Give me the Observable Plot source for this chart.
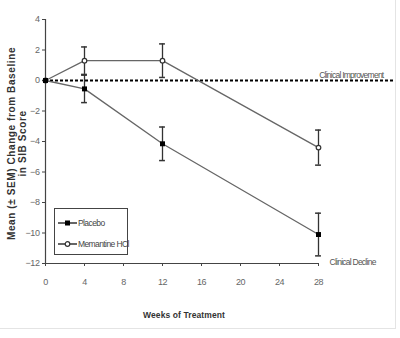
<!DOCTYPE html>
<html>
<head>
<meta charset="utf-8">
<script src="https://cdn.jsdelivr.net/npm/d3@7"></script>
<script src="https://cdn.jsdelivr.net/npm/@observablehq/plot@0.6"></script>
<style>
  html, body { margin: 0; padding: 0; background: #fff; }
  #wrap { position: relative; width: 400px; height: 338px; overflow: hidden; }
  #edge { position: absolute; left: 0; top: 0; width: 395px; height: 328px;
          border-right: 1px solid #e4e4e4; border-bottom: 1px solid #e4e4e4; pointer-events: none; }
  .narrowtext text { letter-spacing: -0.4px; }
  .narrowtext .note text { letter-spacing: -0.75px; }
  .narrowtext .title text { letter-spacing: 0.6px; }
  .narrowtext .xtitle text { letter-spacing: 0.1px; }
  #legend { position: absolute; left: 54px; top: 208px; width: 72px; height: 45px;
            border: 1px solid #444; background: #fff; white-space: nowrap;
            font: 8.5px "Liberation Sans", Arial, sans-serif; letter-spacing: -0.6px; color: #444; }
  #legend .row { position: absolute; left: 3px; height: 12px; display: flex; align-items: center; }
  #legend svg { display: block; }
</style>
</head>
<body>
<div id="wrap"><div id="edge"></div></div>
<script>
// Mean (± SEM) change from baseline in SIB score by week
const weeks = [0, 4, 12, 28];
const placeboMean = [0, -0.55, -4.15, -10.1];
const placeboSem = [0, 0.9, 1.1, 1.4];
const memantineMean = [0, 1.3, 1.3, -4.4];
const memantineSem = [0, 0.9, 1.1, 1.15];
const seriesNames = ["Placebo", "Memantine HCl"];
const weekTicks = [0, 4, 8, 12, 16, 20, 24, 28];
const scoreTicks = [4, 2, 0, -2, -4, -6, -8, -10, -12];

const rows = [];
weeks.forEach((w, i) => {
  rows.push({series: seriesNames[0], week: w, mean: placeboMean[i], sem: placeboSem[i]});
  rows.push({series: seriesNames[1], week: w, mean: memantineMean[i], sem: memantineSem[i]});
});
const withErr = rows.filter(d => d.sem > 0);
const placebo = rows.filter(d => d.series === seriesNames[0]);
const memantine = rows.filter(d => d.series === seriesNames[1]);
const capHalf = 0.3;

const sans = '"Liberation Sans", Arial, sans-serif';

const chart = Plot.plot({
  width: 400,
  height: 338,
  marginLeft: 45,
  marginRight: 7,
  marginTop: 19,
  marginBottom: 75,
  className: "narrowtext",
  x: {domain: [0, 28], range: [45, 318]},
  y: {domain: [-12, 4]},
  style: {fontFamily: sans, fontSize: "9px", background: "transparent", color: "#555"},
  marks: [
    // axis lines
    Plot.ruleX([0], {y1: -12, y2: 4, stroke: "#444", strokeWidth: 1.2}),
    Plot.ruleY([-12], {x1: () => d3.min(weeks), x2: () => d3.max(weeks), stroke: "#444", strokeWidth: 1.2}),
    Plot.axisX({ticks: weekTicks, tickSize: 3, tickPadding: 12, label: null, stroke: "#444", fill: "#666"}),
    Plot.axisY({ticks: scoreTicks, tickSize: 3, tickPadding: 3, label: null, stroke: "#444", fill: "#666"}),
    // baseline
    Plot.ruleY([0], {stroke: "#000", strokeWidth: 2, strokeDasharray: "3,2"}),
    // series lines
    Plot.line(rows, {x: "week", y: "mean", z: "series", stroke: "#666", strokeWidth: 1.3}),
    // error bars with caps
    Plot.ruleX(withErr, {x: "week", y1: d => d.mean - d.sem, y2: d => d.mean + d.sem, stroke: "#333", strokeWidth: 1.3}),
    Plot.ruleY(withErr, {y: d => d.mean + d.sem, x1: d => d.week - capHalf, x2: d => d.week + capHalf, stroke: "#333", strokeWidth: 1.5}),
    Plot.ruleY(withErr, {y: d => d.mean - d.sem, x1: d => d.week - capHalf, x2: d => d.week + capHalf, stroke: "#333", strokeWidth: 1.5}),
    // markers
    Plot.dot(memantine, {x: "week", y: "mean", r: 2.3, fill: "#fff", stroke: "#333", strokeWidth: 1.2}),
    Plot.dot(placebo, {x: "week", y: "mean", symbol: "square", r: 2.8, fill: "#000"}),
    // annotations
    Plot.text(["Clinical Improvement"], {frameAnchor: "right", y: () => 0, dx: -10, dy: -5, textAnchor: "end", fill: "#555", fontSize: 8.5, className: "note"}),
    Plot.text(["Clinical Decline"], {x: () => d3.max(weeks), y: () => -12, dx: 11, dy: -1, textAnchor: "start", fill: "#555", fontSize: 8.5, className: "note"}),
    // axis titles
    Plot.text(["Mean (± SEM) Change from Baseline\nin SIB Score"], {frameAnchor: "left", textAnchor: "middle", rotate: -90, dx: -29, dy: 2, lineHeight: 1.1, fontWeight: "bold", fontSize: 10, fill: "#333", className: "title"}),
    Plot.text(["Weeks of Treatment"], {x: () => d3.mean(d3.extent(weeks)), frameAnchor: "bottom", dy: 54, dx: 2, fontWeight: "bold", fontSize: 8.5, fill: "#333", className: "xtitle"})
  ]
});

const wrap = document.getElementById("wrap");
wrap.insertBefore(chart, wrap.firstChild);

// legend box drawn inside the plot area
const legend = document.createElement("div");
legend.id = "legend";
const symbols = [
  '<rect x="7" y="3.5" width="5" height="5" fill="#000"/>',
  '<circle cx="9.5" cy="6" r="2.3" fill="#fff" stroke="#333" stroke-width="1.2"/>'
];
seriesNames.forEach((name, i) => {
  const row = document.createElement("div");
  row.className = "row";
  row.style.top = (i === 0 ? 8 : 29) + "px";
  row.innerHTML = `<svg width="20" height="12"><line x1="0" y1="6" x2="19" y2="6" stroke="#333" stroke-width="1.5"/>${symbols[i]}</svg><span>${name}</span>`;
  legend.appendChild(row);
});
wrap.appendChild(legend);
</script>
</body>
</html>
